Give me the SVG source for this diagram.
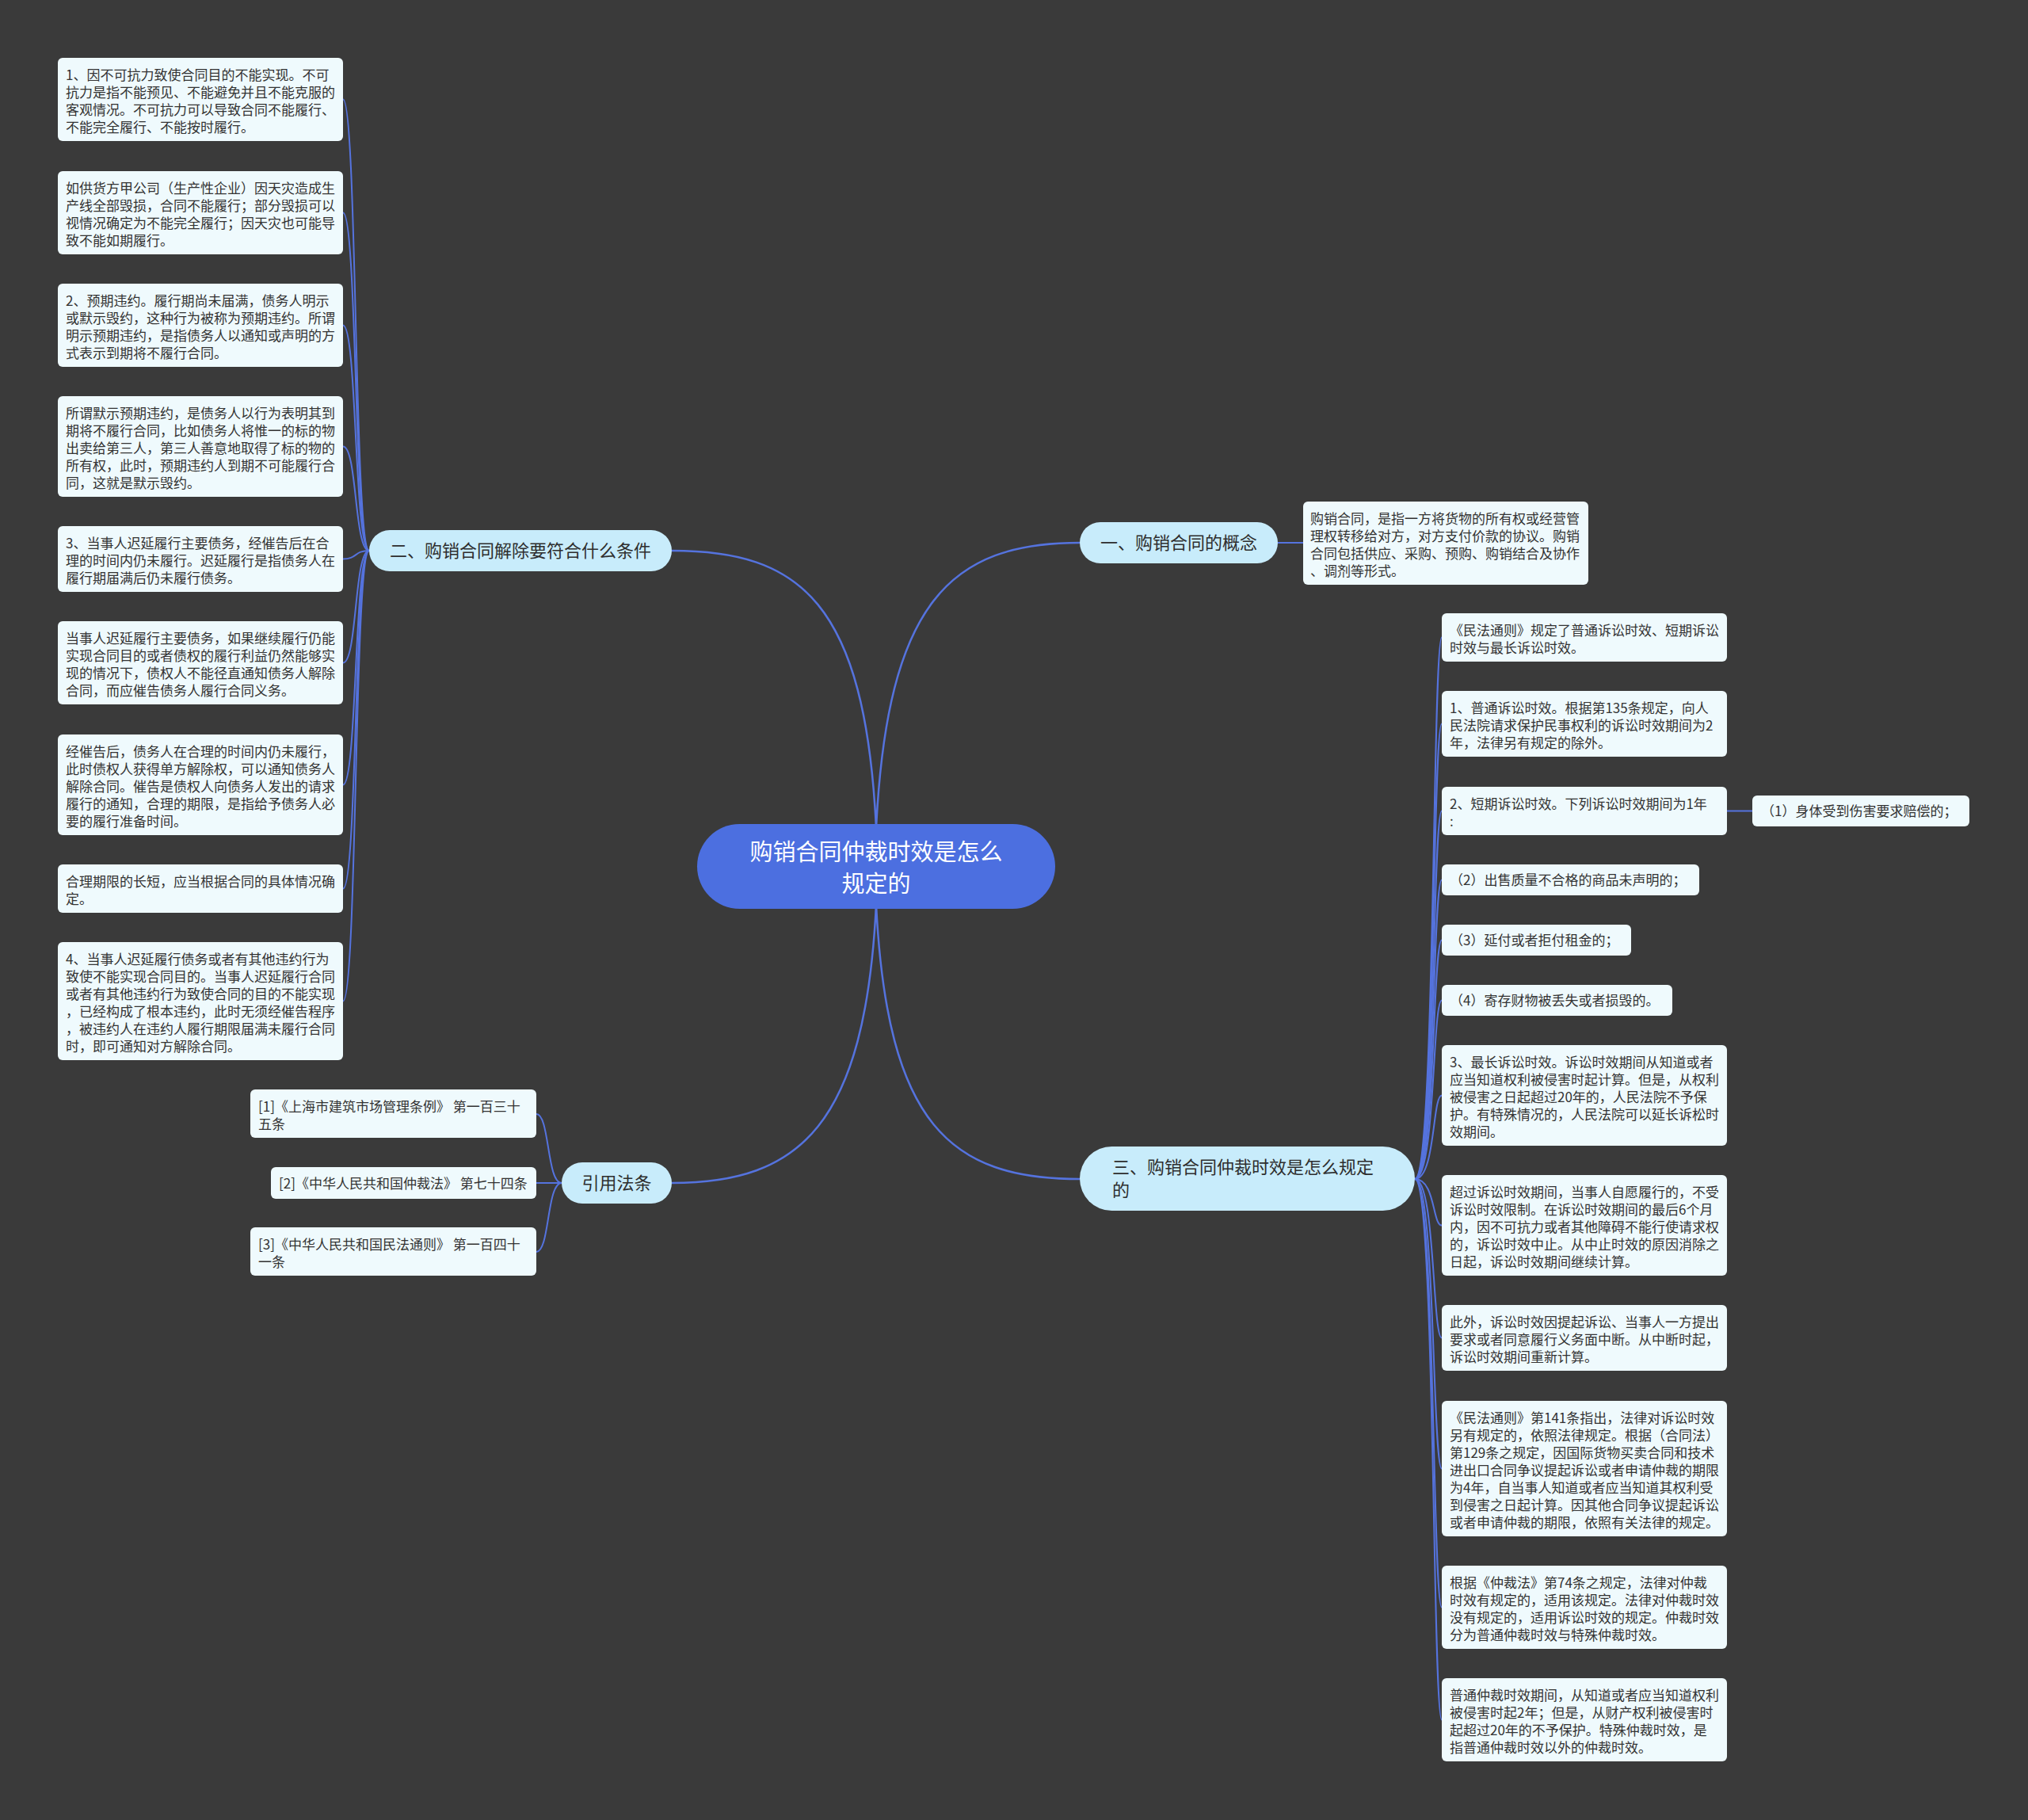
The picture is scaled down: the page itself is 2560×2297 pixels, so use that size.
<svg xmlns="http://www.w3.org/2000/svg" width="2560" height="2297" viewBox="0 0 2560 2297">
<style>
.leaf{fill:#effafd;}
.branch{fill:#c8ecfb;}
.root{fill:#4c6fe0;}
.lt{font-family:"Noto Sans CJK SC","Noto Sans",sans-serif;font-size:17px;fill:#333333;}
.bt{font-family:"Noto Sans CJK SC","Noto Sans",sans-serif;font-size:22px;fill:#2e2e2e;}
.rt{font-family:"Noto Sans CJK SC","Noto Sans",sans-serif;font-size:29px;fill:#ffffff;}
.c{fill:none;stroke:#5573de;stroke-width:2;}
.cm{fill:none;stroke:#5573de;stroke-width:2.5;}
</style>
<rect x="0" y="0" width="2560" height="2297" fill="#3a3a3a"/>
<g id="connectors">
<path class="cm" d="M1106 1045 C1120 760 1200 685 1363 685"/>
<path class="cm" d="M1106 1045 C1092 760 1010 695 848 695"/>
<path class="cm" d="M1106 1142 C1092 1420 1010 1493 848 1493"/>
<path class="cm" d="M1106 1142 C1120 1420 1200 1488 1363 1488"/>
<path class="c" d="M1613 685 L1645 685"/>
<path class="c" d="M466 695 C447 695 451 125.5 433 125.5"/>
<path class="c" d="M466 695 C447 695 451 268.5 433 268.5"/>
<path class="c" d="M466 695 C447 695 451 410.5 433 410.5"/>
<path class="c" d="M466 695 C447 695 451 563.5 433 563.5"/>
<path class="c" d="M466 695 C447 695 451 705.5 433 705.5"/>
<path class="c" d="M466 695 C447 695 451 836.5 433 836.5"/>
<path class="c" d="M466 695 C447 695 451 990.5 433 990.5"/>
<path class="c" d="M466 695 C447 695 451 1121.5 433 1121.5"/>
<path class="c" d="M466 695 C447 695 451 1263.5 433 1263.5"/>
<path class="c" d="M709 1493 C690 1493 694 1406 677 1406"/>
<path class="c" d="M709 1493 C690 1493 694 1493 677 1493"/>
<path class="c" d="M709 1493 C690 1493 694 1580 677 1580"/>
<path class="c" d="M1786 1488 C1812 1488 1808 804.5 1820 804.5"/>
<path class="c" d="M1786 1488 C1812 1488 1808 913.5 1820 913.5"/>
<path class="c" d="M1786 1488 C1812 1488 1808 1023.5 1820 1023.5"/>
<path class="c" d="M1786 1488 C1812 1488 1808 1110.5 1820 1110.5"/>
<path class="c" d="M1786 1488 C1812 1488 1808 1186.5 1820 1186.5"/>
<path class="c" d="M1786 1488 C1812 1488 1808 1262.5 1820 1262.5"/>
<path class="c" d="M1786 1488 C1812 1488 1808 1382.5 1820 1382.5"/>
<path class="c" d="M1786 1488 C1812 1488 1808 1546.5 1820 1546.5"/>
<path class="c" d="M1786 1488 C1812 1488 1808 1688.5 1820 1688.5"/>
<path class="c" d="M1786 1488 C1812 1488 1808 1853.5 1820 1853.5"/>
<path class="c" d="M1786 1488 C1812 1488 1808 2028.5 1820 2028.5"/>
<path class="c" d="M1786 1488 C1812 1488 1808 2170.5 1820 2170.5"/>
<path class="c" d="M2180 1023.5 L2212 1023.5"/>
</g>
<g id="root">
<rect class="root" x="880" y="1040" width="452" height="107" rx="53.5"/>
<text class="rt" text-anchor="middle"><tspan x="1106" y="1086">购销合同仲裁时效是怎么</tspan><tspan x="1106" y="1126">规定的</tspan></text>
</g>
<g id="b1">
<rect class="branch" x="1363" y="659" width="250" height="52" rx="26"/>
<text class="bt" x="1488" y="693" text-anchor="middle">一、购销合同的概念</text>
</g>
<g id="b2">
<rect class="branch" x="466" y="669" width="382" height="52" rx="26"/>
<text class="bt" x="657" y="703" text-anchor="middle">二、购销合同解除要符合什么条件</text>
</g>
<g id="b3">
<rect class="branch" x="1363" y="1447" width="423" height="81" rx="40.5"/>
<text class="bt"><tspan x="1404" y="1481">三、购销合同仲裁时效是怎么规定</tspan><tspan x="1404" y="1510">的</tspan></text>
</g>
<g id="b4">
<rect class="branch" x="709" y="1467" width="139" height="52" rx="26"/>
<text class="bt" x="778.5" y="1501" text-anchor="middle">引用法条</text>
</g>
<g id="concept">
<rect class="leaf" x="1645" y="633" width="360" height="105" rx="6"/>
<text class="lt"><tspan x="1654" y="661">购销合同，是指一方将货物的所有权或经营管</tspan><tspan x="1654" y="683">理权转移给对方，对方支付价款的协议。购销</tspan><tspan x="1654" y="705">合同包括供应、采购、预购、购销结合及协作</tspan><tspan x="1654" y="727">、调剂等形式。</tspan></text>
</g>
<g id="l1">
<rect class="leaf" x="73" y="73" width="360" height="105" rx="6"/>
<text class="lt"><tspan x="83" y="101">1、因不可抗力致使合同目的不能实现。不可</tspan><tspan x="83" y="123">抗力是指不能预见、不能避免并且不能克服的</tspan><tspan x="83" y="145">客观情况。不可抗力可以导致合同不能履行、</tspan><tspan x="83" y="167">不能完全履行、不能按时履行。</tspan></text>
</g>
<g id="l2">
<rect class="leaf" x="73" y="216" width="360" height="105" rx="6"/>
<text class="lt"><tspan x="83" y="244">如供货方甲公司（生产性企业）因天灾造成生</tspan><tspan x="83" y="266">产线全部毁损，合同不能履行；部分毁损可以</tspan><tspan x="83" y="288">视情况确定为不能完全履行；因天灾也可能导</tspan><tspan x="83" y="310">致不能如期履行。</tspan></text>
</g>
<g id="l3">
<rect class="leaf" x="73" y="358" width="360" height="105" rx="6"/>
<text class="lt"><tspan x="83" y="386">2、预期违约。履行期尚未届满，债务人明示</tspan><tspan x="83" y="408">或默示毁约，这种行为被称为预期违约。所谓</tspan><tspan x="83" y="430">明示预期违约，是指债务人以通知或声明的方</tspan><tspan x="83" y="452">式表示到期将不履行合同。</tspan></text>
</g>
<g id="l4">
<rect class="leaf" x="73" y="500" width="360" height="127" rx="6"/>
<text class="lt"><tspan x="83" y="528">所谓默示预期违约，是债务人以行为表明其到</tspan><tspan x="83" y="550">期将不履行合同，比如债务人将惟一的标的物</tspan><tspan x="83" y="572">出卖给第三人，第三人善意地取得了标的物的</tspan><tspan x="83" y="594">所有权，此时，预期违约人到期不可能履行合</tspan><tspan x="83" y="616">同，这就是默示毁约。</tspan></text>
</g>
<g id="l5">
<rect class="leaf" x="73" y="664" width="360" height="83" rx="6"/>
<text class="lt"><tspan x="83" y="692">3、当事人迟延履行主要债务，经催告后在合</tspan><tspan x="83" y="714">理的时间内仍未履行。迟延履行是指债务人在</tspan><tspan x="83" y="736">履行期届满后仍未履行债务。</tspan></text>
</g>
<g id="l6">
<rect class="leaf" x="73" y="784" width="360" height="105" rx="6"/>
<text class="lt"><tspan x="83" y="812">当事人迟延履行主要债务，如果继续履行仍能</tspan><tspan x="83" y="834">实现合同目的或者债权的履行利益仍然能够实</tspan><tspan x="83" y="856">现的情况下，债权人不能径直通知债务人解除</tspan><tspan x="83" y="878">合同，而应催告债务人履行合同义务。</tspan></text>
</g>
<g id="l7">
<rect class="leaf" x="73" y="927" width="360" height="127" rx="6"/>
<text class="lt"><tspan x="83" y="955">经催告后，债务人在合理的时间内仍未履行，</tspan><tspan x="83" y="977">此时债权人获得单方解除权，可以通知债务人</tspan><tspan x="83" y="999">解除合同。催告是债权人向债务人发出的请求</tspan><tspan x="83" y="1021">履行的通知，合理的期限，是指给予债务人必</tspan><tspan x="83" y="1043">要的履行准备时间。</tspan></text>
</g>
<g id="l8">
<rect class="leaf" x="73" y="1091" width="360" height="61" rx="6"/>
<text class="lt"><tspan x="83" y="1119">合理期限的长短，应当根据合同的具体情况确</tspan><tspan x="83" y="1141">定。</tspan></text>
</g>
<g id="l9">
<rect class="leaf" x="73" y="1189" width="360" height="149" rx="6"/>
<text class="lt"><tspan x="83" y="1217">4、当事人迟延履行债务或者有其他违约行为</tspan><tspan x="83" y="1239">致使不能实现合同目的。当事人迟延履行合同</tspan><tspan x="83" y="1261">或者有其他违约行为致使合同的目的不能实现</tspan><tspan x="83" y="1283">，已经构成了根本违约，此时无须经催告程序</tspan><tspan x="83" y="1305">，被违约人在违约人履行期限届满未履行合同</tspan><tspan x="83" y="1327">时，即可通知对方解除合同。</tspan></text>
</g>
<g id="cite1">
<rect class="leaf" x="316" y="1375" width="361" height="61" rx="6"/>
<text class="lt"><tspan x="326" y="1403">[1]《上海市建筑市场管理条例》 第一百三十</tspan><tspan x="326" y="1425">五条</tspan></text>
</g>
<g id="cite2">
<rect class="leaf" x="342" y="1473" width="335" height="40" rx="6"/>
<text class="lt" x="352" y="1500">[2]《中华人民共和国仲裁法》 第七十四条</text>
</g>
<g id="cite3">
<rect class="leaf" x="316" y="1549" width="361" height="61" rx="6"/>
<text class="lt"><tspan x="326" y="1577">[3]《中华人民共和国民法通则》 第一百四十</tspan><tspan x="326" y="1599">一条</tspan></text>
</g>
<g id="r1">
<rect class="leaf" x="1820" y="774" width="360" height="61" rx="6"/>
<text class="lt"><tspan x="1830" y="802">《民法通则》规定了普通诉讼时效、短期诉讼</tspan><tspan x="1830" y="824">时效与最长诉讼时效。</tspan></text>
</g>
<g id="r2">
<rect class="leaf" x="1820" y="872" width="360" height="83" rx="6"/>
<text class="lt"><tspan x="1830" y="900">1、普通诉讼时效。根据第135条规定，向人</tspan><tspan x="1830" y="922">民法院请求保护民事权利的诉讼时效期间为2</tspan><tspan x="1830" y="944">年，法律另有规定的除外。</tspan></text>
</g>
<g id="r3">
<rect class="leaf" x="1820" y="993" width="360" height="61" rx="6"/>
<text class="lt"><tspan x="1830" y="1021">2、短期诉讼时效。下列诉讼时效期间为1年</tspan><tspan x="1830" y="1043">:</tspan></text>
</g>
<g id="r3a">
<rect class="leaf" x="2212" y="1004" width="274" height="39" rx="6"/>
<text class="lt" x="2223" y="1030">（1）身体受到伤害要求赔偿的；</text>
</g>
<g id="r4">
<rect class="leaf" x="1820" y="1091" width="325" height="39" rx="6"/>
<text class="lt" x="1830" y="1117">（2）出售质量不合格的商品未声明的；</text>
</g>
<g id="r5">
<rect class="leaf" x="1820" y="1167" width="239" height="39" rx="6"/>
<text class="lt" x="1830" y="1193">（3）延付或者拒付租金的；</text>
</g>
<g id="r6">
<rect class="leaf" x="1820" y="1243" width="291" height="39" rx="6"/>
<text class="lt" x="1830" y="1269">（4）寄存财物被丢失或者损毁的。</text>
</g>
<g id="r7">
<rect class="leaf" x="1820" y="1319" width="360" height="127" rx="6"/>
<text class="lt"><tspan x="1830" y="1347">3、最长诉讼时效。诉讼时效期间从知道或者</tspan><tspan x="1830" y="1369">应当知道权利被侵害时起计算。但是，从权利</tspan><tspan x="1830" y="1391">被侵害之日起超过20年的，人民法院不予保</tspan><tspan x="1830" y="1413">护。有特殊情况的，人民法院可以延长诉松时</tspan><tspan x="1830" y="1435">效期间。</tspan></text>
</g>
<g id="r8">
<rect class="leaf" x="1820" y="1483" width="360" height="127" rx="6"/>
<text class="lt"><tspan x="1830" y="1511">超过诉讼时效期间，当事人自愿履行的，不受</tspan><tspan x="1830" y="1533">诉讼时效限制。在诉讼时效期间的最后6个月</tspan><tspan x="1830" y="1555">内，因不可抗力或者其他障碍不能行使请求权</tspan><tspan x="1830" y="1577">的，诉讼时效中止。从中止时效的原因消除之</tspan><tspan x="1830" y="1599">日起，诉讼时效期间继续计算。</tspan></text>
</g>
<g id="r9">
<rect class="leaf" x="1820" y="1647" width="360" height="83" rx="6"/>
<text class="lt"><tspan x="1830" y="1675">此外，诉讼时效因提起诉讼、当事人一方提出</tspan><tspan x="1830" y="1697">要求或者同意履行义务面中断。从中断时起，</tspan><tspan x="1830" y="1719">诉讼时效期间重新计算。</tspan></text>
</g>
<g id="r10">
<rect class="leaf" x="1820" y="1768" width="360" height="171" rx="6"/>
<text class="lt"><tspan x="1830" y="1796">《民法通则》第141条指出，法律对诉讼时效</tspan><tspan x="1830" y="1818">另有规定的，依照法律规定。根据（合同法）</tspan><tspan x="1830" y="1840">第129条之规定，因国际货物买卖合同和技术</tspan><tspan x="1830" y="1862">进出口合同争议提起诉讼或者申请仲裁的期限</tspan><tspan x="1830" y="1884">为4年，自当事人知道或者应当知道其权利受</tspan><tspan x="1830" y="1906">到侵害之日起计算。因其他合同争议提起诉讼</tspan><tspan x="1830" y="1928">或者申请仲裁的期限，依照有关法律的规定。</tspan></text>
</g>
<g id="r11">
<rect class="leaf" x="1820" y="1976" width="360" height="105" rx="6"/>
<text class="lt"><tspan x="1830" y="2004">根据《仲裁法》第74条之规定，法律对仲裁</tspan><tspan x="1830" y="2026">时效有规定的，适用该规定。法律对仲裁时效</tspan><tspan x="1830" y="2048">没有规定的，适用诉讼时效的规定。仲裁时效</tspan><tspan x="1830" y="2070">分为普通仲裁时效与特殊仲裁时效。</tspan></text>
</g>
<g id="r12">
<rect class="leaf" x="1820" y="2118" width="360" height="105" rx="6"/>
<text class="lt"><tspan x="1830" y="2146">普通仲裁时效期间，从知道或者应当知道权利</tspan><tspan x="1830" y="2168">被侵害时起2年；但是，从财产权利被侵害时</tspan><tspan x="1830" y="2190">起超过20年的不予保护。特殊仲裁时效，是</tspan><tspan x="1830" y="2212">指普通仲裁时效以外的仲裁时效。</tspan></text>
</g>
</svg>
